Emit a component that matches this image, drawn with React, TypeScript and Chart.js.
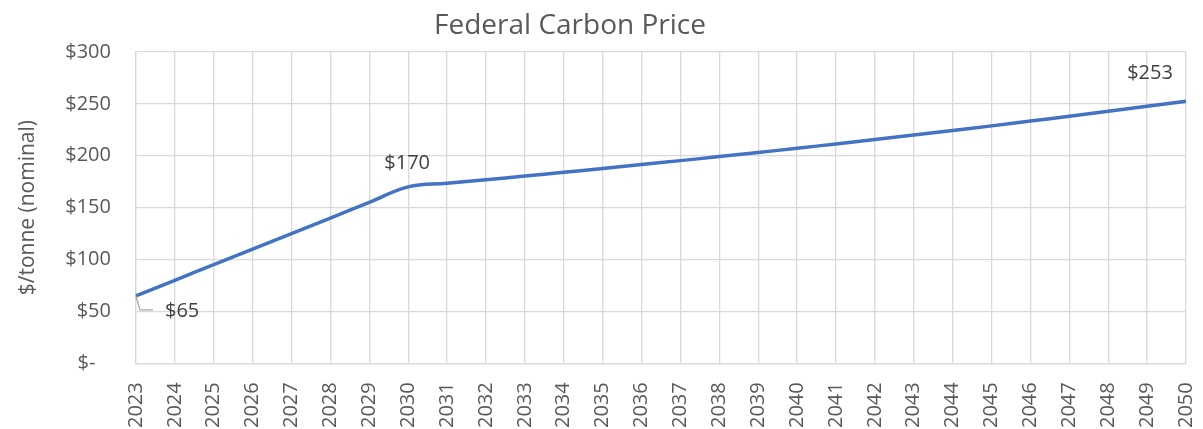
import React, { useEffect, useRef } from "react";
import { Chart, registerables } from "chart.js";

Chart.register(...registerables);

const years = [
  "2023", "2024", "2025", "2026", "2027", "2028", "2029", "2030", "2031", "2032",
  "2033", "2034", "2035", "2036", "2037", "2038", "2039", "2040", "2041", "2042",
  "2043", "2044", "2045", "2046", "2047", "2048", "2049", "2050",
];
const prices = [
  65, 80, 95, 110, 125, 140, 155, 170, 173.4, 176.9,
  180.4, 184.0, 187.7, 191.5, 195.3, 199.2, 203.2, 207.2, 211.4, 215.6,
  219.9, 224.3, 228.8, 233.4, 238.0, 242.8, 247.7, 252.6,
];
const labeledIndices = [0, 7, 27];
const yTicks = [0, 50, 100, 150, 200, 250, 300];
const titleText = "Federal Carbon Price";

const FONT = "'Open Sans', 'DejaVu Sans', sans-serif";

const titlePlugin = {
  id: "customTitle",
  afterDraw(chart: any) {
    const ctx = chart.ctx;
    ctx.save();
    ctx.font = `28px ${FONT}`;
    ctx.fillStyle = "#595959";
    ctx.textAlign = "center";
    ctx.textBaseline = "middle";
    ctx.fillText(titleText, 570, 26);
    ctx.restore();
  },
};

const dataLabelPlugin = {
  id: "dataLabels",
  afterDatasetsDraw(chart: any) {
    const meta = chart.getDatasetMeta(0);
    const ctx = chart.ctx;
    ctx.save();
    ctx.font = `20px ${FONT}`;
    ctx.fillStyle = "#404040";
    ctx.textBaseline = "middle";
    labeledIndices.forEach((i) => {
      const pt = meta.data[i];
      if (!pt) return;
      const text = "$" + Math.round(prices[i]);
      if (i === 0) {
        ctx.strokeStyle = "#a6a6a6";
        ctx.lineWidth = 1.3;
        ctx.beginPath();
        ctx.moveTo(pt.x, pt.y);
        ctx.lineTo(pt.x + 4, pt.y + 14);
        ctx.lineTo(pt.x + 17, pt.y + 14);
        ctx.stroke();
        ctx.textAlign = "left";
        ctx.fillText(text, pt.x + 29, pt.y + 15);
      } else if (i === labeledIndices[1]) {
        ctx.textAlign = "center";
        ctx.fillText(text, pt.x - 1, pt.y - 24);
      } else {
        ctx.textAlign = "center";
        ctx.fillText(text, pt.x - 36, pt.y - 28);
      }
    });
    ctx.restore();
  },
};

export default function App() {
  const ref = useRef<HTMLCanvasElement>(null);
  useEffect(() => {
    if (!ref.current) return;
    const chart = new Chart(ref.current, {
      type: "line",
      data: {
        labels: years,
        datasets: [
          {
            data: prices,
            borderColor: "#4472C4",
            borderWidth: 3.5,
            pointRadius: 0,
            tension: 0.4,
            fill: false,
          },
        ],
      },
      options: {
        responsive: false,
        animation: false,
        layout: { padding: { left: 15, right: 17, top: 52, bottom: -18 } },
        plugins: {
          legend: { display: false },
          tooltip: { enabled: false },
          title: { display: false },
        },
        scales: {
          x: {
            offset: false,
            afterFit: (scale: any) => {
              scale.paddingRight = 0;
              scale.paddingLeft = 0;
            },
            grid: { color: "#d9d9d9", lineWidth: 1.3, drawTicks: false },
            border: { color: "#d9d9d9", width: 1.3 },
            ticks: {
              color: "#595959",
              font: { family: FONT, size: 20 },
              maxRotation: 90,
              minRotation: 90,
              padding: 19,
              autoSkip: false,
            },
          },
          y: {
            min: 0,
            max: 300,
            afterBuildTicks: (axis: any) => {
              axis.ticks = yTicks.map((v) => ({ value: v }));
            },
            grid: { color: "#d9d9d9", lineWidth: 1.3, drawTicks: false },
            border: { color: "#d9d9d9", width: 1.3 },
            ticks: {
              color: "#595959",
              font: { family: FONT, size: 20 },
              padding: 25,
              callback: (v: any) => (v === 0 ? "$-   " : "$" + v),
            },
            title: {
              display: true,
              text: "$/tonne (nominal)",
              color: "#595959",
              font: { family: FONT, size: 21 },
              padding: { top: 0, bottom: 0 },
            },
          },
        },
      },
      plugins: [dataLabelPlugin, titlePlugin],
    });
    return () => chart.destroy();
  }, []);
  return (
    <div style={{ position: "absolute", left: 0, top: 0, width: 1203, height: 429 }}>
      <canvas ref={ref} width={1203} height={429} style={{ display: "block" }} />
    </div>
  );
}
